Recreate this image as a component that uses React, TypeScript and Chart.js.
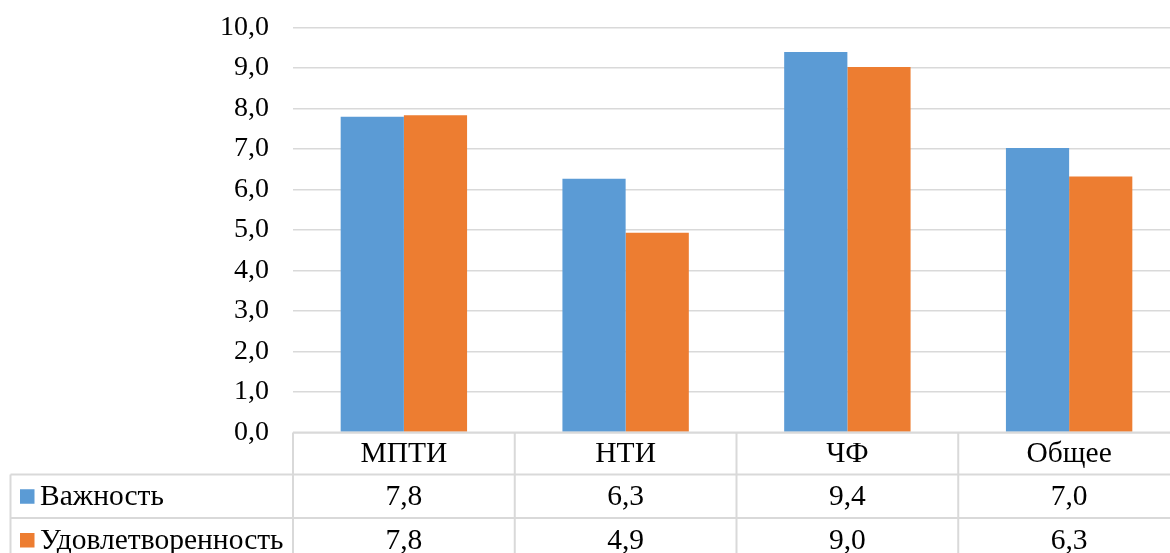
import React, { useEffect, useRef } from "react";
import { Chart, registerables } from "chart.js";

Chart.register(...registerables);

const categories = ["МПТИ", "НТИ", "ЧФ", "Общее"];
const seriesNames = ["Важность", "Удовлетворенность"];
const importance = [7.79, 6.26, 9.39, 7.02];
const satisfaction = [7.83, 4.93, 9.02, 6.32];
const seriesColors = ["#5b9bd5", "#ed7d31"];
const yTicksMin = 0;
const yTicksMax = 10;
const yTicksStep = 1;

const FONT = "Liberation Serif, 'Times New Roman', serif";
const FONT_SIZE = 28;
const TABLE_FONT_SIZE = 29.5;
const LINE = "#d9d9d9";

const fmt = (v: number) => v.toFixed(1).replace(".", ",");

const tablePlugin = {
  id: "dataTable",
  afterDraw(chart: any) {
    const ctx = chart.ctx as CanvasRenderingContext2D;
    const area = chart.chartArea;
    const xs = chart.scales.x;
    const colW = (area.right - area.left) / categories.length;
    const top = area.bottom;
    const row1 = top + 42;
    const row2 = row1 + 43.5;
    const bottom = row2 + 44;
    const tableLeft = 10.5;
    ctx.save();
    ctx.strokeStyle = LINE;
    ctx.lineWidth = 2;
    ctx.beginPath();
    ctx.moveTo(area.left, top);
    ctx.lineTo(area.right, top);
    ctx.moveTo(tableLeft, row1);
    ctx.lineTo(area.right, row1);
    ctx.moveTo(tableLeft, row2);
    ctx.lineTo(area.right, row2);
    ctx.moveTo(tableLeft, bottom);
    ctx.lineTo(area.right, bottom);
    ctx.moveTo(tableLeft, row1);
    ctx.lineTo(tableLeft, bottom);
    for (let i = 0; i <= categories.length; i++) {
      const x = area.left + i * colW;
      ctx.moveTo(x, top);
      ctx.lineTo(x, bottom);
    }
    ctx.stroke();

    ctx.fillStyle = "#000";
    ctx.font = `${TABLE_FONT_SIZE}px ${FONT}`;
    ctx.textBaseline = "middle";
    ctx.textAlign = "center";
    const datasets = chart.data.datasets;
    categories.forEach((c, i) => {
      const cx = xs.getPixelForValue(i);
      ctx.fillText(c, cx, (top + row1) / 2 + 1);
      ctx.fillText(fmt(datasets[0].data[i]), cx, (row1 + row2) / 2 + 1);
      ctx.fillText(fmt(datasets[1].data[i]), cx, (row2 + bottom) / 2 + 1);
    });
    ctx.textAlign = "left";
    const rows = [(row1 + row2) / 2, (row2 + bottom) / 2];
    seriesNames.forEach((name, k) => {
      ctx.fillStyle = seriesColors[k];
      ctx.fillRect(20, rows[k] - 7, 14.5, 14.5);
      ctx.fillStyle = "#000";
      ctx.fillText(name, 40, rows[k] + 1);
    });
    ctx.restore();
  },
};

export default function App() {
  const ref = useRef<HTMLCanvasElement>(null);
  useEffect(() => {
    if (!ref.current) return;
    const chart = new Chart(ref.current, {
      type: "bar",
      data: {
        labels: categories,
        datasets: [
          {
            label: seriesNames[0],
            data: importance,
            backgroundColor: seriesColors[0],
            borderWidth: 0,
            barPercentage: 1,
            categoryPercentage: 0.57,
          },
          {
            label: seriesNames[1],
            data: satisfaction,
            backgroundColor: seriesColors[1],
            borderWidth: 0,
            barPercentage: 1,
            categoryPercentage: 0.57,
          },
        ],
      },
      options: {
        animation: false,
        responsive: false,
        maintainAspectRatio: false,
        devicePixelRatio: 1,
        layout: { padding: { top: 27.3, bottom: 120.5, left: 0, right: 10 } },
        plugins: { legend: { display: false }, tooltip: { enabled: false } },
        scales: {
          x: {
            display: false,
            grid: { display: false },
          },
          y: {
            min: yTicksMin,
            max: yTicksMax,
            border: { display: false },
            grid: { color: LINE, lineWidth: 1.5, drawTicks: false },
            ticks: {
              stepSize: yTicksStep,
              padding: 24,
              color: "#000",
              font: { family: FONT, size: FONT_SIZE },
              callback: (v: any) => fmt(Number(v)),
            },
            afterFit: (scale: any) => {
              scale.width = 293;
              scale.paddingTop = 0;
              scale.paddingBottom = 0;
            },
          },
        },
      },
      plugins: [tablePlugin],
    });
    return () => chart.destroy();
  }, []);
  return (
    <div
      style={{
        position: "fixed",
        left: 0,
        top: 0,
        width: 1170,
        height: 553,
        overflow: "hidden",
        background: "#fff",
      }}
    >
      <canvas ref={ref} width={1190} height={553} style={{ display: "block", width: 1190, height: 553 }} />
    </div>
  );
}
